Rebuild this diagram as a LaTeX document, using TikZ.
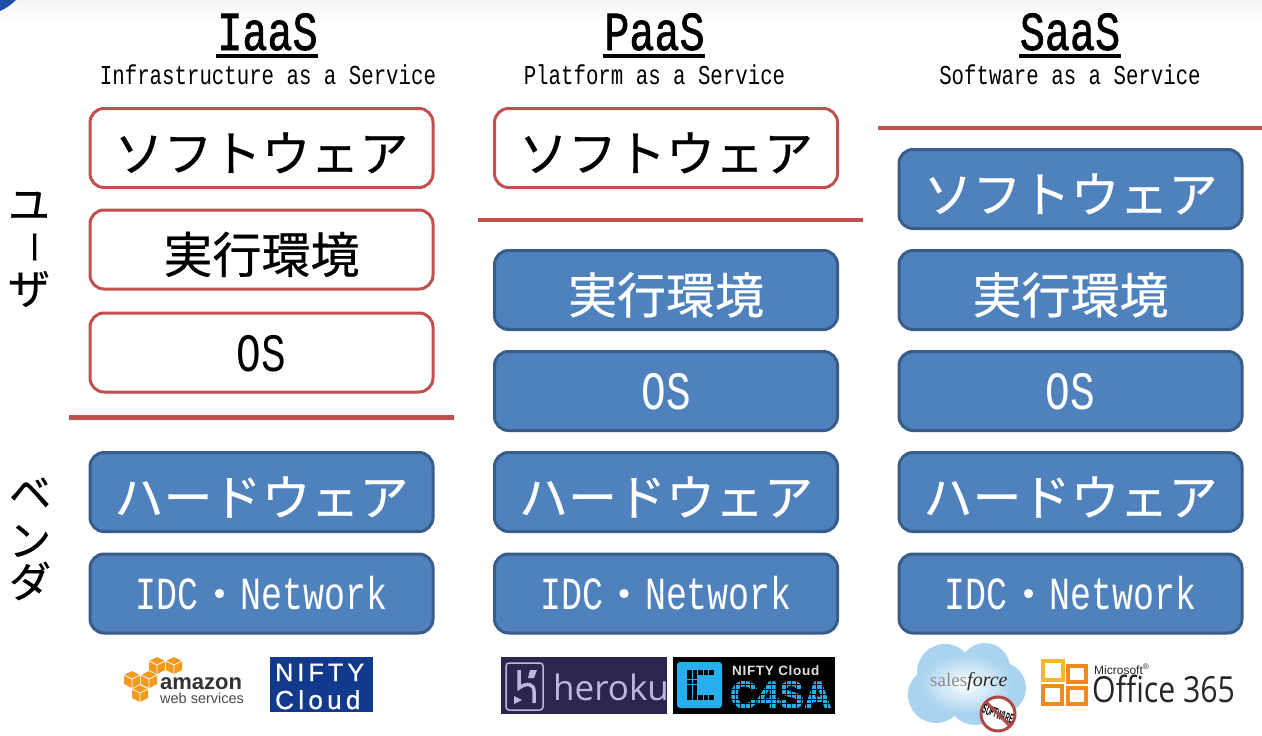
\documentclass[tikz,border=0pt]{standalone}
\usepackage{fontspec}
\usepackage{graphicx}
\setmainfont{Liberation Sans}
\newfontfamily\jpf[FakeBold=0.5]{Noto Sans CJK JP}
\newfontfamily\monof[FakeStretch=0.76]{Liberation Mono}
\newfontfamily\monob[FakeStretch=0.76,FakeBold=1.2]{Liberation Mono}
\newfontfamily\serf{Liberation Serif}
\newfontfamily\hero{Open Sans}
\newfontfamily\offf[FakeStretch=0.84]{Open Sans}
\newfontfamily\cfs[FakeBold=2.5]{Liberation Sans Bold}
\newfontfamily\nfs[LetterSpace=5]{Liberation Sans Bold}
\newfontfamily\nift[FakeBold=1]{Liberation Sans}
\usetikzlibrary{shadings}
\definecolor{redl}{HTML}{C0504D}
\definecolor{bluef}{HTML}{4F81BD}
\definecolor{blued}{HTML}{385D8A}
\definecolor{amz}{HTML}{F29A1F}
\definecolor{niftyb}{HTML}{113A8C}
\definecolor{herob}{HTML}{2B2650}
\definecolor{herot}{HTML}{BDB8E0}
\definecolor{c4b}{HTML}{27AEEF}
\definecolor{cloudb}{HTML}{A9D3EE}
\definecolor{offo}{HTML}{F08A1D}
\definecolor{offy}{HTML}{F8B52E}
\definecolor{cornerb}{HTML}{1C4FA5}
\newcommand{\idctext}{IDC{\jpf\fontsize{42}{42}\selectfont ・}Network}
\tikzset{
  x=1pt,y=-1pt,
  basebox/.style={rounded corners=14pt,line width=3pt,minimum width=343pt,minimum height=79pt,inner sep=0pt,anchor=center},
  userbox/.style={basebox,draw=redl,fill=white,text=black},
  vendbox/.style={basebox,draw=blued,fill=bluef,text=white},
  kana/.style={font=\jpf\fontsize{49}{49}\selectfont,text height=47pt,text depth=0pt},
  latin/.style={font=\monof\fontsize{54}{54}\selectfont,text height=37pt,text depth=0pt},
  idc/.style={font=\monof\fontsize{46}{46}\selectfont,text height=32pt,text depth=0pt},
  title/.style={font=\monob\fontsize{55}{55}\selectfont,inner sep=0pt,anchor=base},
  subtitle/.style={font=\monof\fontsize{27.3}{27.3}\selectfont,inner sep=0pt,anchor=base},
  side/.style={font=\jpf\fontsize{42}{42}\selectfont,inner sep=0pt,anchor=center},
  divider/.style={draw=redl,line width=4.5pt},
  ulbar/.style={draw=black,line width=3.5pt},
  cube/.style={fill=amz},
  logotext/.style={inner sep=0pt,anchor=base west},
}
\newcommand{\amzcube}[2]{%
  \fill[cube] (#1-8,#2-4) -- (#1,#2-8) -- (#1+8,#2-4) -- (#1+8,#2+5) -- (#1,#2+9) -- (#1-8,#2+5) -- cycle;
  \draw[white,line width=.7pt] (#1-8,#2-4) -- (#1,#2) -- (#1+8,#2-4) (#1,#2) -- (#1,#2+9);
}
\begin{document}
\begin{tikzpicture}
\useasboundingbox (0,0) rectangle (1262,736);
\fill[white] (0,0) rectangle (1262,736);
\shade[top color=black!4,bottom color=white] (0,0) rectangle (1262,24);
\fill[cornerb] (0,0) -- (16,0) .. controls (11,5) and (5,9) .. (0,11) -- cycle;
% headings
\node[title] (t1) at (267.5,50) {IaaS};
\node[title] (t2) at (654.5,50) {PaaS};
\node[title] (t3) at (1070,50) {SaaS};
\draw[ulbar] (216,56) -- (318,56);
\draw[ulbar] (603,56) -- (705,56);
\draw[ulbar] (1019,56) -- (1121,56);
\node[subtitle] (s1) at (268,84) {Infrastructure as a Service};
\node[subtitle] (s2) at (654.5,84) {Platform as a Service};
\node[subtitle] (s3) at (1070,84) {Software as a Service};
% side labels
\node[side] (u1) at (29,206) {ユ};
\node[side] (u2) at (29,247) {\scalebox{.8}{\rotatebox{-90}{ー}}};
\node[side] (u3) at (29,289) {ザ};
\node[side] (v1) at (30,493) {ベ};
\node[side] (v2) at (30,541) {ン};
\node[side] (v3) at (30,581) {ダ};
% IaaS
\node[userbox,kana] (a1) at (261.5,148) {ソフトウェア};
\node[userbox,kana] (a2) at (261.5,249.5) {実行環境};
\node[userbox,latin] (a3) at (261.5,352.5) {OS};
\node[vendbox,kana] (a4) at (261.5,492) {ハードウェア};
\node[vendbox,idc] (a5) at (261.5,593.5) {\idctext};
% PaaS
\node[userbox,kana] (b1) at (666,148) {ソフトウェア};
\node[vendbox,kana] (b2) at (666,290) {実行環境};
\node[vendbox,latin] (b3) at (666,391) {OS};
\node[vendbox,kana] (b4) at (666,492) {ハードウェア};
\node[vendbox,idc] (b5) at (666,593.5) {\idctext};
% SaaS
\node[vendbox,kana] (c1) at (1070.5,189) {ソフトウェア};
\node[vendbox,kana] (c2) at (1070.5,290) {実行環境};
\node[vendbox,latin] (c3) at (1070.5,391) {OS};
\node[vendbox,kana] (c4) at (1070.5,492) {ハードウェア};
\node[vendbox,idc] (c5) at (1070.5,593.5) {\idctext};
% dividers
\draw[divider] (69,417.5) -- (454,417.5);
\draw[divider] (478,220) -- (863,220);
\draw[divider] (878,128) -- (1262,128);
% Amazon
\amzcube{157}{665}\amzcube{174}{665}\amzcube{132}{679}\amzcube{149}{679}\amzcube{140}{693}
\node[logotext,font=\bfseries\fontsize{22}{22}\selectfont,text=black!80] (amz1) at (160,689) {amazon};
\node[logotext,font=\fontsize{14.5}{14.5}\selectfont,text=black!70] (amz2) at (160,703) {web services};
% NIFTY Cloud
\fill[niftyb] (270,657) rectangle (373,712);
\node[logotext,font=\nift\fontsize{25}{25}\selectfont,text=white] (nf1) at (275,681) {N\,I\,F\,T\,Y};
\node[logotext,font=\nift\fontsize{26}{26}\selectfont,text=white] (nf2) at (275,709) {C\,l\,o\,u\,d};
% Heroku
\fill[herob] (501,657) rectangle (667,714);
\draw[herot,line width=1.5pt,rounded corners=3pt] (506,663) rectangle (543,710);
\draw[herot,line width=3.5pt] (519,670) -- (519,688) .. controls (527,682) and (534,684) .. (534,691) -- (534,703);
\fill[herot] (514,696) -- (522,700) -- (514,704) -- cycle;
\fill[herot] (530,670) -- (537,670) -- (534,678) -- (528,678) -- cycle;
\node[logotext,font=\hero\fontsize{35}{35}\selectfont,text=herot] (he) at (553,700) {heroku};
% C4SA
\fill[black] (673,657) rectangle (835,714);
\fill[c4b,rounded corners=3pt] (677,662) rectangle (722,708);
\foreach \i in {0,...,4}{\fill[black] (687+\i*5.6,670) rectangle +(4.6,5);\fill[black] (687+\i*5.6,695) rectangle +(4.6,5);}
\foreach \j in {1,...,4}{\fill[black] (687,670+\j*5.1) rectangle +(4.6,4.2);\fill[black] (692.6,670+\j*5.1) rectangle +(4.6,4.2);}
\node[logotext,font=\nfs\fontsize{13.5}{13.5}\selectfont,text=white!88!black] (c4a) at (732,675) {NIFTY Cloud};
\node[logotext,font=\cfs\fontsize{38}{38}\selectfont,text=c4b] (c4c) at (730,708) {C4SA};
\foreach \k in {0,...,6}{\draw[black,line width=.6pt] (728,680+\k*4.7) -- (834,680+\k*4.7);}
\foreach \k in {0,...,20}{\draw[black,line width=.6pt] (730+\k*5.1,678) -- (730+\k*5.1,710);}
% Salesforce
\fill[cloudb] (945,672) circle[radius=28] (985,668) circle[radius=25] (1000,688) circle[radius=26] (936,695) circle[radius=28] (975,698) circle[radius=27] (955,672) circle[radius=20];
\shade[inner color=white,outer color=cloudb] (966,684) ellipse[x radius=46,y radius=30];
\node[logotext,font=\serf\fontsize{19}{19}\selectfont,text=black!45] (sf1) at (930,686) {sales};
\node[logotext,font=\serf\itshape\fontsize{20}{20}\selectfont,text=black!85] (sf2) at (967,686) {force};
\draw[redl!90!black,line width=3pt,fill=white] (998,714) circle[radius=17];
\node[inner sep=0pt,rotate=-20,font=\bfseries\fontsize{9}{9}\selectfont] (sf3) at (998,714) {\scalebox{.62}[1.5]{SOFTWARE}};
\draw[redl!90!black,line width=3pt] (986,702) -- (1010,726);
% Office
\draw[offy,line width=4pt] (1043,661) rectangle (1063,680);
\draw[offo,line width=4pt] (1068,666) rectangle (1086,682);
\draw[offo,line width=4pt] (1043,686) rectangle (1062,704);
\draw[offo,line width=4pt] (1068,688) rectangle (1086,704);
\node[logotext,font=\fontsize{12}{12}\selectfont,text=black!85] (of1) at (1094,674) {Microsoft\textsuperscript{®}};
\node[logotext,font=\offf\fontsize{36}{36}\selectfont,text=black!85] (of2) at (1092,702) {Office 365};
\end{tikzpicture}
\end{document}
